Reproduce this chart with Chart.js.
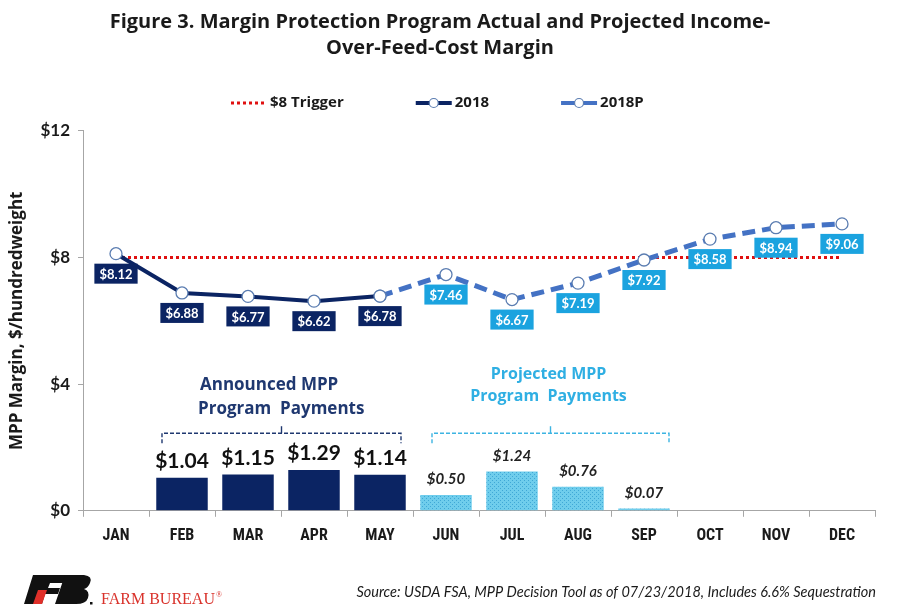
<!DOCTYPE html>
<html>
<head>
<meta charset="utf-8">
<script src="https://cdn.jsdelivr.net/npm/chart.js@4.4.1/dist/chart.umd.min.js"></script>
<style>
  html, body { margin: 0; padding: 0; background: #fff; }
  #wrap { width: 900px; height: 609px; }
</style>
</head>
<body>
<div id="wrap"><canvas id="mpp"></canvas></div>
<script>
const months = ['JAN', 'FEB', 'MAR', 'APR', 'MAY', 'JUN', 'JUL', 'AUG', 'SEP', 'OCT', 'NOV', 'DEC'];
const trigger = [8, 8, 8, 8, 8, 8, 8, 8, 8, 8, 8, 8];
const actual2018 = [8.12, 6.88, 6.77, 6.62, 6.78, null, null, null, null, null, null, null];
const projected2018 = [null, null, null, null, 6.78, 7.46, 6.67, 7.19, 7.92, 8.58, 8.94, 9.06];
const payments = [null, 1.04, 1.15, 1.29, 1.14, 0.50, 1.24, 0.76, 0.07, null, null, null];
const announcedMonths = ['FEB', 'MAR', 'APR', 'MAY'];
const projectedMonths = ['JUN', 'JUL', 'AUG', 'SEP'];
const yTicks = [0, 4, 8, 12];

const NAVY = '#0B2463';
const LINE_P = '#4472C4';
const CYAN = '#1BA3DF';
const RED = '#E01010';
const TXT = '#1a1a1a';
const FONT = "Lato, 'Open Sans', sans-serif";
const WIDE = "'Open Sans', Lato, sans-serif";

// dotted fill for the projected payment bars
function dotPattern() {
    const c = document.createElement('canvas');
    c.width = 4; c.height = 4;
    const g = c.getContext('2d');
    g.fillStyle = '#6FCDEC';
    g.fillRect(0, 0, 4, 4);
    g.fillStyle = '#3FA8D6';
    g.fillRect(0, 0, 1, 1);
    g.fillRect(2, 2, 1, 1);
    return g.createPattern(c, 'repeat');
}

const pattern = dotPattern();
const barColors = months.map(m => projectedMonths.includes(m) ? pattern : NAVY);

function drawLegendIcon(ctx, x, y, color, width, dash, marker) {
    ctx.save();
    ctx.strokeStyle = color;
    ctx.lineWidth = width;
    ctx.setLineDash(dash);
    ctx.beginPath();
    ctx.moveTo(x, y);
    ctx.lineTo(x + 36, y);
    ctx.stroke();
    if (marker) {
        ctx.setLineDash([]);
        ctx.beginPath();
        ctx.arc(x + 18, y, 4.5, 0, Math.PI * 2);
        ctx.fillStyle = '#fff';
        ctx.fill();
        ctx.lineWidth = 1.2;
        ctx.strokeStyle = '#5B7DB1';
        ctx.stroke();
    }
    ctx.restore();
}

// legend, value boxes, bar labels, brackets, footer
const decorations = {
    id: 'decorations',
    afterDatasetsDraw(chart) {
        const ctx = chart.ctx;
        const x = chart.scales.x;
        const y = chart.scales.y;

        // boxes under line points
        chart.data.datasets.forEach((ds, i) => {
            if (!ds.labelBg) return;
            const meta = chart.getDatasetMeta(i);
            meta.data.forEach((pt, j) => {
                const v = ds.data[j];
                if (v == null) return;
                if (ds.skipWhere && ds.skipWhere[j] != null) return;
                const text = '$' + v.toFixed(2);
                ctx.save();
                ctx.font = 'bold 13px ' + FONT;
                const w = ctx.measureText(text).width + 10;
                const cy = pt.y + 20;
                ctx.fillStyle = ds.labelBg;
                ctx.fillRect(pt.x - w / 2, cy - 10, w, 20);
                ctx.fillStyle = '#fff';
                ctx.textAlign = 'center';
                ctx.textBaseline = 'middle';
                ctx.fillText(text, pt.x, cy + 1);
                ctx.restore();
            });
        });

        // labels over the payment bars
        const barMeta = chart.getDatasetMeta(0);
        barMeta.data.forEach((bar, j) => {
            const v = payments[j];
            if (v == null) return;
            const proj = projectedMonths.includes(months[j]);
            ctx.save();
            ctx.fillStyle = proj ? '#222' : '#111';
            ctx.font = proj ? 'italic bold 15px ' + FONT : 'bold 21px ' + FONT;
            ctx.textAlign = 'center';
            ctx.textBaseline = 'bottom';
            ctx.fillText('$' + v.toFixed(2), bar.x, bar.y - (proj ? 8 : 6));
            ctx.restore();
        });

        // brackets with their captions
        function bracket(x1, x2, xm, yLine, color) {
            ctx.save();
            ctx.strokeStyle = color;
            ctx.lineWidth = 1.4;
            ctx.setLineDash([4, 2]);
            ctx.beginPath();
            ctx.moveTo(x1, yLine + 10);
            ctx.lineTo(x1, yLine);
            ctx.lineTo(x2, yLine);
            ctx.lineTo(x2, yLine + 10);
            ctx.stroke();
            ctx.setLineDash([]);
            ctx.beginPath();
            ctx.moveTo(xm, yLine);
            ctx.lineTo(xm, yLine - 7);
            ctx.stroke();
            ctx.restore();
        }
        const a1 = x.getPixelForValue(months.indexOf(announcedMonths[0])) - 20;
        const a2 = x.getPixelForValue(months.indexOf(announcedMonths[3])) + 21;
        const p1 = x.getPixelForValue(months.indexOf(projectedMonths[0])) - 14;
        const p2 = x.getPixelForValue(months.indexOf(projectedMonths[3])) + 25;
        bracket(a1, a2, (a1 + a2) / 2, y.getPixelForValue(2.45), '#1F3870');
        bracket(p1, p2, (p1 + p2) / 2, y.getPixelForValue(2.45), '#3DB4E2');

        ctx.save();
        ctx.textBaseline = 'middle';
        ctx.font = 'bold 17px ' + WIDE;
        ctx.fillStyle = '#1F3870';
        ctx.textAlign = 'left';
        ctx.fillText('Announced MPP', a1 + 38, 385);
        ctx.fillText('Program  Payments', a1 + 36, 409);
        ctx.font = 'bold 16px ' + WIDE;
        ctx.fillStyle = '#2FAFE3';
        ctx.textAlign = 'center';
        const pc = (p1 + p2) / 2 - 2;
        ctx.fillText('Projected MPP', pc, 374);
        ctx.fillText('Program  Payments', pc, 396);
        ctx.restore();
    },
    afterDraw(chart) {
        const ctx = chart.ctx;
        ctx.save();

        // legend row
        const items = [
            { text: chart.data.datasets[1].label, color: RED, width: 3, dash: [3, 3], marker: false },
            { text: chart.data.datasets[2].label, color: NAVY, width: 4, dash: [], marker: true },
            { text: chart.data.datasets[3].label, color: LINE_P, width: 4, dash: [], marker: true }
        ];
        ctx.font = 'bold 15px ' + WIDE;
        ctx.textBaseline = 'middle';
        ctx.fillStyle = TXT;
        let lx = 231;
        items.forEach(it => {
            drawLegendIcon(ctx, lx, 103, it.color, it.width, it.dash, it.marker);
            ctx.fillStyle = TXT;
            ctx.fillText(it.text, lx + 39, 103);
            lx += 39 + ctx.measureText(it.text).width + 72;
        });

        // Farm Bureau mark
        ctx.fillStyle = '#111';
        ctx.beginPath();
        ctx.moveTo(33, 575); ctx.lineTo(70, 575); ctx.lineTo(67, 583);
        ctx.lineTo(50, 583); ctx.lineTo(48, 588); ctx.lineTo(60, 588);
        ctx.lineTo(58, 594); ctx.lineTo(45, 594); ctx.lineTo(42, 604);
        ctx.lineTo(24, 604);
        ctx.closePath();
        ctx.fill();
        ctx.fillStyle = '#E0302A';
        ctx.beginPath();
        ctx.moveTo(38, 590); ctx.lineTo(47, 590); ctx.lineTo(42, 604); ctx.lineTo(33, 604);
        ctx.closePath();
        ctx.fill();
        ctx.fillStyle = '#111';
        ctx.beginPath();
        ctx.moveTo(65, 575); ctx.lineTo(84, 575);
        ctx.quadraticCurveTo(93, 576, 90, 583);
        ctx.quadraticCurveTo(88, 588, 84, 589);
        ctx.quadraticCurveTo(90, 591, 88, 598);
        ctx.quadraticCurveTo(86, 604, 76, 604);
        ctx.lineTo(55, 604);
        ctx.closePath();
        ctx.fill();
        ctx.fillRect(90, 602, 2.5, 2.5);

        ctx.fillStyle = '#D9322B';
        ctx.font = "16px 'Liberation Serif', serif";
        ctx.textBaseline = 'alphabetic';
        ctx.fillText('FARM BUREAU', 101, 604);
        const fw = ctx.measureText('FARM BUREAU').width;
        ctx.font = "8px 'Liberation Serif', serif";
        ctx.fillText('®', 101 + fw + 1, 597);

        ctx.fillStyle = TXT;
        ctx.font = 'italic 14.5px ' + FONT;
        ctx.textAlign = 'right';
        ctx.fillText('Source: USDA FSA, MPP Decision Tool as of 07/23/2018, Includes 6.6% Sequestration', 876, 597);
        ctx.restore();
    }
};

const pointStyleOpts = {
    pointRadius: 6,
    pointHoverRadius: 6,
    pointBackgroundColor: '#fff',
    pointBorderColor: '#5B7DB1',
    pointBorderWidth: 1.3
};

new Chart(document.getElementById('mpp'), {
    type: 'bar',
    data: {
        labels: months,
        datasets: [
            {
                label: 'Payments',
                data: payments,
                backgroundColor: barColors,
                barPercentage: 0.78,
                categoryPercentage: 1.0,
                order: 4
            },
            {
                type: 'line',
                label: '$8 Trigger',
                data: trigger,
                borderColor: RED,
                borderWidth: 3,
                borderDash: [3, 3],
                pointRadius: 0,
                order: 3
            },
            Object.assign({
                type: 'line',
                label: '2018',
                data: actual2018,
                borderColor: NAVY,
                borderWidth: 4,
                labelBg: NAVY,
                order: 1
            }, pointStyleOpts),
            Object.assign({
                type: 'line',
                label: '2018P',
                data: projected2018,
                borderColor: LINE_P,
                borderWidth: 5,
                borderDash: [13, 7],
                labelBg: CYAN,
                skipWhere: actual2018,
                order: 2
            }, pointStyleOpts)
        ]
    },
    options: {
        responsive: true,
        maintainAspectRatio: false,
        animation: false,
        layout: { padding: { left: 5, right: 25, top: 0, bottom: 53 } },
        plugins: {
            tooltip: { enabled: false },
            legend: { display: false },
            title: {
                display: true,
                text: ['Figure 3. Margin Protection Program Actual and Projected Income-', 'Over-Feed-Cost Margin'],
                color: TXT,
                font: { family: WIDE, size: 20, weight: 'bold', lineHeight: 1.27 },
                padding: { top: 10, bottom: 70 }
            }
        },
        scales: {
            x: {
                offset: true,
                grid: { drawOnChartArea: false, tickLength: 6, color: '#A6A6A6', offset: true },
                border: { color: '#A6A6A6' },
                ticks: {
                    color: TXT,
                    padding: 10,
                    font: { family: "'Liberation Sans Narrow', 'Roboto Condensed', Roboto, sans-serif", size: 16, weight: 'bold' }
                }
            },
            y: {
                min: 0,
                max: 12,
                afterFit(scale) { scale.width = 78; },
                afterBuildTicks(scale) { scale.ticks = yTicks.map(v => ({ value: v })); },
                grid: { drawOnChartArea: false, tickLength: 5, color: '#A6A6A6' },
                border: { color: '#A6A6A6' },
                ticks: {
                    color: TXT,
                    padding: 8,
                    font: { family: FONT, size: 17, weight: 'bold' },
                    callback: v => '$' + v
                },
                title: {
                    display: true,
                    text: 'MPP Margin, $/hundredweight',
                    color: TXT,
                    font: { family: WIDE, size: 17, weight: 'bold' },
                    padding: { top: 2, bottom: 4 }
                }
            }
        }
    },
    plugins: [decorations]
});
</script>
</body>
</html>
